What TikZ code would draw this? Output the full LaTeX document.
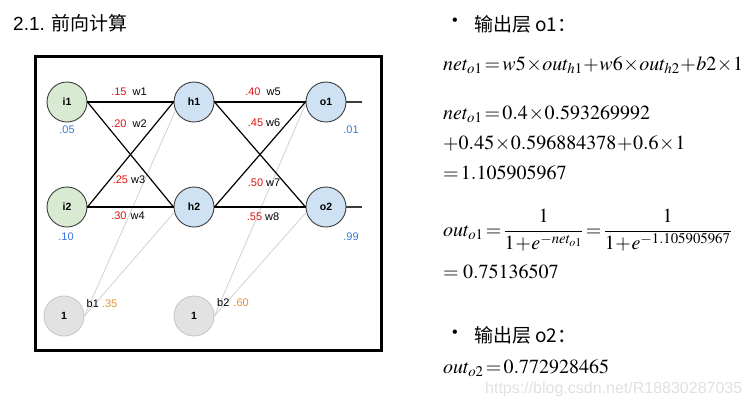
\documentclass[tikz,border=0pt]{standalone}
\usepackage{mathptmx}
\usepackage[no-math]{fontspec}
\setmainfont{Liberation Sans}
\newfontfamily\cjk{Noto Sans CJK SC}
\newcommand{\tightmath}{\thickmuskip=2mu\relax\medmuskip=0.5mu\relax\thinmuskip=1mu\relax}
\definecolor{wred}{RGB}{225,20,20}
\definecolor{vblue}{RGB}{60,120,216}
\definecolor{borange}{RGB}{230,145,56}
\definecolor{ingreen}{RGB}{217,234,211}
\definecolor{hidblue}{RGB}{207,226,243}
\definecolor{biasgray}{RGB}{226,226,226}
\definecolor{biasborder}{RGB}{200,200,200}
\definecolor{nodeborder}{RGB}{60,60,60}
\definecolor{linkgray}{RGB}{210,210,210}
\definecolor{outgray}{RGB}{60,60,60}
\definecolor{wmgray}{RGB}{225,225,225}
\begin{document}
\begin{tikzpicture}[x=1pt,y=-1pt]
\tikzset{
 neuron/.style={circle, minimum size=40pt, inner sep=0pt, draw=nodeborder, line width=0.9pt, font=\fontsize{10.5}{12}\selectfont\bfseries},
 inp/.style={neuron, fill=ingreen},
 hid/.style={neuron, fill=hidblue},
 biasn/.style={neuron, fill=biasgray, draw=biasborder},
 conn/.style={line width=1.2pt, black},
 blink/.style={line width=0.8pt, draw=linkgray},
 outl/.style={line width=1.8pt, draw=outgray},
 wlab/.style={font=\fontsize{11}{13}\selectfont, inner sep=0pt},
 vlab/.style={font=\fontsize{11}{13}\selectfont, inner sep=0pt, text=vblue},
 eq/.style={font=\fontsize{20}{24}\selectfont\tightmath, inner sep=0pt, anchor=base west},
 head/.style={font=\fontsize{19}{22}\selectfont, inner sep=0pt, anchor=base west},
}
\useasboundingbox (0,0) rectangle (750,408);
\fill[white] (0,0) rectangle (750,408);

% title
\node[head] (title) at (13,30) {2.1. {\cjk 前向计算}};

% frame
\draw[line width=3.5pt] (35.5,56.5) rectangle (381.5,350.5);

% neurons
\node[inp] (i1) at (67,102) {i1};
\node[inp] (i2) at (67,207) {i2};
\node[hid] (h1) at (194,102) {h1};
\node[hid] (h2) at (194,207) {h2};
\node[hid] (o1) at (326,102) {o1};
\node[hid] (o2) at (326,207) {o2};
\node[biasn] (b1) at (64,316) {1};
\node[biasn] (b2) at (194,316) {1};
\coordinate (x1) at (362,102);
\coordinate (x2) at (362,207);

% bias links
\draw[blink] (b1.east) -- (h1.205);
\draw[blink] (b1.east) -- (h2.195);
\draw[blink] (b2.east) -- (o1.185);
\draw[blink] (b2.east) -- (o2.195);

% weights links
\draw[conn] (i1.east) -- (h1.west);
\draw[conn] (i1.east) -- (h2.west);
\draw[conn] (i2.east) -- (h1.west);
\draw[conn] (i2.east) -- (h2.west);
\draw[conn] (h1.east) -- (o1.west);
\draw[conn] (h1.east) -- (o2.west);
\draw[conn] (h2.east) -- (o1.west);
\draw[conn] (h2.east) -- (o2.west);
\draw[outl] (o1.east) -- (x1);
\draw[outl] (o2.east) -- (x2);

% weight labels
\node[wlab] (lw1) at (129,92) {\textcolor{wred}{.15}\hspace{6pt}w1};
\node[wlab] (lw2) at (129,124) {\textcolor{wred}{.20}\hspace{6pt}w2};
\node[wlab] (lw3) at (129,180) {\textcolor{wred}{.25}\hspace{3pt}w3};
\node[wlab] (lw4) at (128,216) {\textcolor{wred}{.30}\hspace{4pt}w4};
\node[wlab] (lw5) at (263,92) {\textcolor{wred}{.40}\hspace{6pt}w5};
\node[wlab] (lw6) at (264,123) {\textcolor{wred}{.45}\hspace{3pt}w6};
\node[wlab] (lw7) at (264,183) {\textcolor{wred}{.50}\hspace{3pt}w7};
\node[wlab] (lw8) at (263,217) {\textcolor{wred}{.55}\hspace{3pt}w8};
\node[wlab] (lb1) at (102,304) {b1\hspace{3pt}\textcolor{borange}{.35}};
\node[wlab] (lb2) at (233,303) {b2\hspace{4pt}\textcolor{borange}{.60}};

% values
\node[vlab] (v1) at (67,130) {.05};
\node[vlab] (v2) at (66,237) {.10};
\node[vlab] (t1) at (351,130) {.01};
\node[vlab] (t2) at (351,237) {.99};

% right side
\node[font=\fontsize{16}{18}\selectfont, inner sep=0pt] (bul1) at (455,22) {•};
\node[head] (hd1) at (474,31) {{\cjk 输出层 o1：}};
\node[eq] (e1) at (443,70) {$net_{o1}=w5\times out_{h1}+w6\times out_{h2}+b2\times 1$};
\node[eq] (e2) at (443,119) {$net_{o1}=0.4\times 0.593269992$};
\node[eq] (e3) at (443,149) {$+0.45\times 0.596884378+0.6\times 1$};
\node[eq] (e4) at (443,179) {$=1.105905967$};
\node[eq] (e5) at (443,236) {$\displaystyle out_{o1}=\frac{1}{1+e^{-net_{o1}}}=\frac{1}{1+e^{-1.105905967}}$};
\node[eq] (e6) at (443,278) {$=\;0.75136507$};
\node[font=\fontsize{16}{18}\selectfont, inner sep=0pt] (bul2) at (455,334) {•};
\node[head] (hd2) at (474,342) {{\cjk 输出层 o2：}};
\node[eq] (e7) at (443,373) {$out_{o2}=0.772928465$};

% watermark
\node[font=\fontsize{16}{18}\selectfont, inner sep=0pt, text=wmgray, anchor=west] (wm) at (485,389) {https://blog.csdn.net/R18830287035};
\end{tikzpicture}
\end{document}
